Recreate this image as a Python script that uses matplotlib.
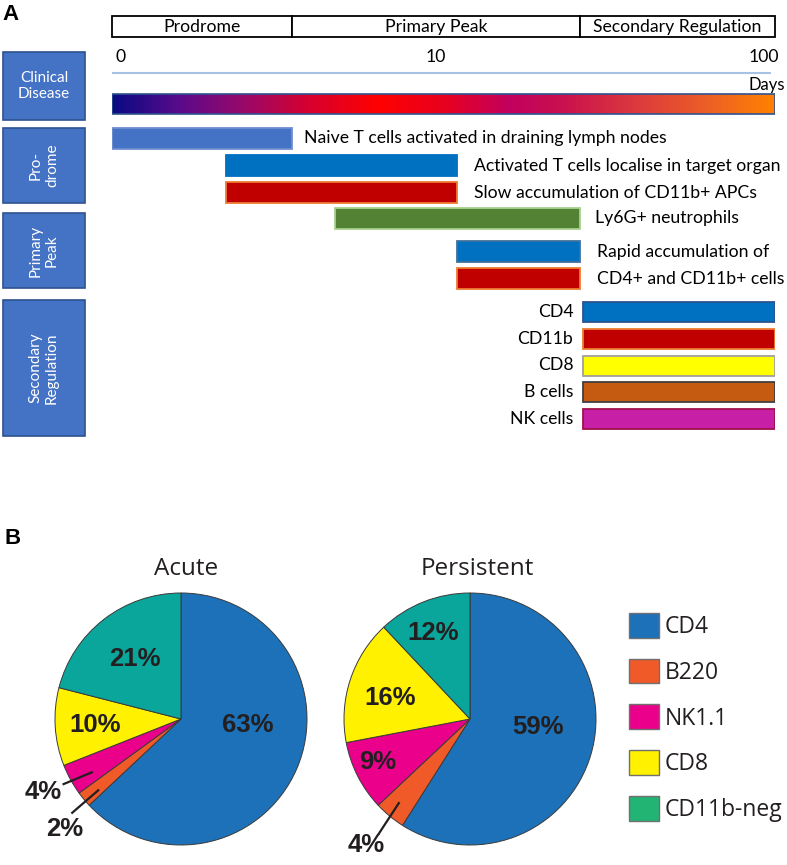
import numpy as np
import matplotlib
matplotlib.use("Agg")
import matplotlib.pyplot as plt
from matplotlib.colors import LinearSegmentedColormap
from matplotlib.patches import Rectangle, Patch

# ---------------- data ----------------
phase_names = ["Prodrome", "Primary Peak", "Secondary Regulation"]
phase_start = [1, 3.5, 25.8]
phase_end = [3.5, 25.8, 100]

day_ticks = [1, 10, 100]
day_tick_labels = ["0", "10", "100"]

event_labels = ["Naive T cells activated in draining lymph nodes",
                "Activated T cells localise in target organ",
                "Slow accumulation of CD11b+ APCs",
                "Ly6G+ neutrophils",
                "Rapid accumulation of",
                "CD4+ and CD11b+ cells"]
event_start = [1, 2.2, 2.2, 4.7, 11, 11]
event_end = [3.5, 11, 11, 25.8, 25.8, 25.8]

late_labels = ["CD4", "CD11b", "CD8", "B cells", "NK cells"]
late_start = [26.4, 26.4, 26.4, 26.4, 26.4]
late_end = [100, 100, 100, 100, 100]

stage_boxes = ["Clinical\nDisease", "Pro-\ndrome", "Primary\nPeak", "Secondary\nRegulation"]

pie_labels = ["CD4", "B220", "NK1.1", "CD8", "CD11b-neg"]
acute = [63, 2, 4, 10, 21]
persistent = [59, 4, 9, 16, 12]

# ---------------- styles ----------------
W, H = 787, 865
fig = plt.figure(figsize=(W / 100, H / 100), dpi=100)
TXT = "Lato"
FS = 12.7

def frac(x0, y0, w, h):
    return [x0 / W, 1 - (y0 + h) / H, w / W, h / H]

ov = fig.add_axes([0, 0, 1, 1])
ov.set_xlim(0, W); ov.set_ylim(H, 0); ov.axis("off")

# panel letters
ov.text(2, 15, "A", fontsize=16, fontweight="bold", family="Liberation Sans", va="center", ha="left")
ov.text(5, 539, "B", fontsize=16, fontweight="bold", family="Liberation Sans", va="center", ha="left")

# stage boxes (left)
box_y = [(52, 120), (128, 203), (213, 288), (300, 436)]
for (y0, y1), lab in zip(box_y, stage_boxes):
    ov.add_patch(Rectangle((3, y0), 82, y1 - y0, facecolor="#4472C4", edgecolor="#2F528F", lw=1.2))
    rot = 0 if lab.startswith("Clinical") else 90
    ov.text(44, (y0 + y1) / 2, lab, color="white", fontsize=11, family=TXT,
            ha="center", va="center", rotation=rot, linespacing=1.2)

ov.text(785, 85, "Days", fontsize=12, family=TXT, ha="right", va="center")

# timeline axes
tl = fig.add_axes(frac(112, 0, 663, 440))
tl.set_xscale("log"); tl.set_xlim(1, 100); tl.set_ylim(440, 0); tl.axis("off")

for n, s, e in zip(phase_names, phase_start, phase_end):
    tl.barh(26.5, e - s, left=s, height=21, facecolor="white", edgecolor="black", lw=1.3, clip_on=False)
    tl.text(np.sqrt(s * e), 27, n, ha="center", va="center", fontsize=FS, family=TXT)

tick_off = [(3, "left"), (-8, "center"), (4, "right")]
for t, lab, (dx, ha) in zip(day_ticks, day_tick_labels, tick_off):
    tl.annotate(lab, xy=(t, 57), xytext=(dx, 0), textcoords="offset pixels",
                ha=ha, va="center", fontsize=FS, family=TXT, annotation_clip=False)

tl.hlines(73, day_ticks[0], 97, color="#A8C2E6", lw=1.5)

cmap = LinearSegmentedColormap.from_list("clin", [
    (0.0, "#0A0A82"), (0.1, "#5A0A8A"), (0.2, "#9A0868"), (0.3, "#D8002C"),
    (0.4, "#FF0000"), (0.5, "#E8001E"), (0.6, "#C2005E"), (0.68, "#C8104E"),
    (0.8, "#DC3C3C"), (0.9, "#EC5E26"), (1.0, "#FF8000")])
xe = np.geomspace(day_ticks[0], day_ticks[-1], 400)
tl.pcolormesh(xe, [94, 114], np.linspace(0, 1, 399)[None, :], cmap=cmap, shading="flat")
tl.barh(104, day_ticks[-1] - day_ticks[0], left=day_ticks[0], height=20, fill=False,
        edgecolor="#2F528F", lw=1.2)

ev_y = [138.5, 165.5, 192.5, 218.5, 251.5, 278.5]
ev_fc = ["#4472C4", "#0070C0", "#C00000", "#548235", "#0070C0", "#C00000"]
ev_ec = ["#6F8FD0", "#0070C0", "#ED7D31", "#A9D18E", "#41719C", "#ED7D31"]
ev_dx = [12, 17, 17, 15, 17, 17]
for lab, s, e, y, fc, ec, dx in zip(event_labels, event_start, event_end, ev_y, ev_fc, ev_ec, ev_dx):
    tl.barh(y, e - s, left=s, height=21, facecolor=fc, edgecolor=ec, lw=1.3)
    tl.annotate(lab, xy=(e, y), xytext=(dx, 0), textcoords="offset pixels",
                ha="left", va="center", fontsize=FS, family=TXT, annotation_clip=False)

late_y = [312, 339, 365.5, 392, 418.5]
late_fc = ["#0070C0", "#C00000", "#FFFF00", "#C55A11", "#C71FA6"]
late_ec = ["#2F528F", "#ED7D31", "#A0A0A0", "#404040", "#A0104A"]
for lab, s, e, y, fc, ec in zip(late_labels, late_start, late_end, late_y, late_fc, late_ec):
    tl.barh(y, e - s, left=s, height=20, facecolor=fc, edgecolor=ec, lw=1.3)
    tl.annotate(lab, xy=(s, y), xytext=(-10, 0), textcoords="offset pixels",
                ha="right", va="center", fontsize=FS, family=TXT, annotation_clip=False)

# ---------------- pies ----------------
pie_colors = ["#1C71B8", "#F05A28", "#EB008B", "#FFF100", "#0AA59B"]
legend_colors = ["#1C71B8", "#F05A28", "#EB008B", "#FFF100", "#22B473"]
R = 126
LIM = 1.3
side = 2 * LIM * R
NUM = dict(fontsize=18.5, fontweight="bold", family="Liberation Sans", color="#231F20",
           ha="center", va="center")

pies = [
    dict(cx=181, cy=719, vals=acute, title="Acute", tpos=(0.04, 1.19),
         lab=[(0.53, -0.05), None, None, (-0.68, -0.05), (-0.37, 0.48)],
         out=[None, ((-0.92, -0.87), (-0.87, -0.75), (-0.65, -0.56)),
              ((-1.09, -0.58), (-0.94, -0.52), (-0.70, -0.42)), None, None]),
    dict(cx=470, cy=719, vals=persistent, title="Persistent", tpos=(0.06, 1.19),
         lab=[(0.54, -0.06), None, (-0.73, -0.34), (-0.63, 0.17), (-0.29, 0.68)],
         out=[None, ((-0.82, -1.0), (-0.73, -0.92), (-0.56, -0.66)), None, None, None]),
]

for p in pies:
    ax = fig.add_axes(frac(p["cx"] - side / 2, p["cy"] - side / 2, side, side))
    ax.pie(p["vals"], colors=pie_colors, startangle=90, counterclock=False, radius=1,
           wedgeprops=dict(edgecolor="#3A3A3A", linewidth=0.7))
    ax.set_xlim(-LIM, LIM); ax.set_ylim(-LIM, LIM); ax.set_aspect("equal"); ax.axis("off")
    ax.text(p["tpos"][0], p["tpos"][1], p["title"], fontsize=17.5, family="Open Sans",
            color="#231F20", ha="center", va="center")
    for v, lp, op in zip(p["vals"], p["lab"], p["out"]):
        if lp is not None:
            ax.text(lp[0], lp[1], f"{v}%", **NUM)
        if op is not None:
            (tx, ty), (x0, y0), (x1, y1) = op
            ax.text(tx, ty, f"{v}%", **NUM)
            ax.plot([x0, x1], [y0, y1], color="#231F20", lw=1.6, solid_capstyle="butt")

handles = [Patch(facecolor=c, edgecolor="#707070", lw=1) for c in legend_colors]
leg = fig.legend(handles, pie_labels, loc="upper left", bbox_to_anchor=(629 / W, 1 - 613 / H),
                 frameon=False, borderpad=0, borderaxespad=0, handlelength=1.32,
                 handleheight=1.28, handletextpad=0.25, labelspacing=0.86,
                 prop=dict(family="Open Sans", size=16.5))
for t in leg.get_texts():
    t.set_color("#231F20")

fig.savefig("out.png", dpi=100)
